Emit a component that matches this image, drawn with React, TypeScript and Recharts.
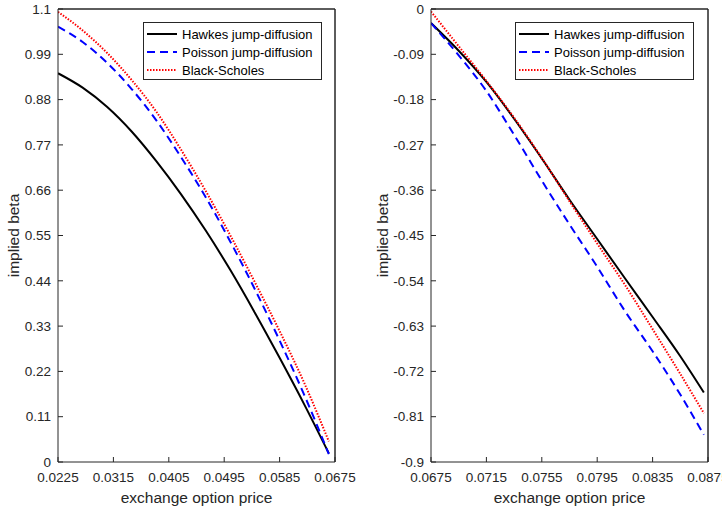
import { LineChart, Line, XAxis, YAxis, Legend, Label } from "recharts";

// left panel: low price range
const leftPrice = [0.0225, 0.0265, 0.0305, 0.0345, 0.0385, 0.0425, 0.0465, 0.0505, 0.0545, 0.0585, 0.0625, 0.0665];
const leftHawkes = [0.944, 0.909, 0.862, 0.802, 0.73, 0.65, 0.562, 0.466, 0.362, 0.253, 0.14, 0.021];
const leftPoisson = [1.057, 1.02, 0.969, 0.905, 0.829, 0.74, 0.643, 0.535, 0.419, 0.295, 0.163, 0.019];
const leftBlackScholes = [1.093, 1.048, 0.993, 0.927, 0.85, 0.758, 0.658, 0.55, 0.436, 0.318, 0.192, 0.05];
const leftXTicks = [0.0225, 0.0315, 0.0405, 0.0495, 0.0585, 0.0675];
const leftYTicks = [0, 0.11, 0.22, 0.33, 0.44, 0.55, 0.66, 0.77, 0.88, 0.99, 1.1];

// right panel: high price range
const rightPrice = [0.0675, 0.0695, 0.0715, 0.0735, 0.0755, 0.0775, 0.0795, 0.0815, 0.0835, 0.0855, 0.0872];
const rightHawkes = [-0.028, -0.083, -0.145, -0.218, -0.297, -0.379, -0.457, -0.535, -0.612, -0.69, -0.762];
const rightPoisson = [-0.028, -0.092, -0.163, -0.25, -0.341, -0.428, -0.512, -0.6, -0.68, -0.766, -0.846];
const rightBlackScholes = [-0.005, -0.074, -0.143, -0.216, -0.296, -0.382, -0.466, -0.548, -0.636, -0.725, -0.803];
const rightXTicks = [0.0675, 0.0715, 0.0755, 0.0795, 0.0835, 0.0875];
const rightYTicks = [-0.9, -0.81, -0.72, -0.63, -0.54, -0.45, -0.36, -0.27, -0.18, -0.09, 0];

const AXIS = "#262626";
const TEXT = "#262626";

const SERIES = [
  { key: "hawkes", name: "Hawkes jump-diffusion", color: "#000000", dash: undefined },
  { key: "poisson", name: "Poisson jump-diffusion", color: "#0000ff", dash: "8 5" },
  { key: "bs", name: "Black-Scholes", color: "#ff0000", dash: "1.5 1.5" },
];

const LegendBox = () => (
  <div
    style={{
      width: 179,
      height: 58,
      boxSizing: "border-box",
      border: `1px solid ${AXIS}`,
      background: "#fff",
      padding: "2px 0 0 3px",
    }}
  >
    {SERIES.map((s) => (
      <div key={s.key} style={{ display: "flex", alignItems: "center", height: 18, fontSize: 13, color: "#000" }}>
        <svg width={30} height={6} style={{ marginRight: 5 }}>
          <line x1={0} y1={3} x2={30} y2={3} stroke={s.color} strokeWidth={2} strokeDasharray={s.dash} />
        </svg>
        <span>{s.name}</span>
      </div>
    ))}
  </div>
);

function Panel({ price, hawkes, poisson, bs, xTicks, yTicks, axisWidth, rightGap, titleX, legendLeft }: any) {
  const data = price.map((p: number, i: number) => ({ price: p, hawkes: hawkes[i], poisson: poisson[i], bs: bs[i] }));
  const xDomain = [xTicks[0], xTicks[xTicks.length - 1]];
  const yDomain = [yTicks[0], yTicks[yTicks.length - 1]];
  const plotLeft = 8 + axisWidth;
  const plotRight = 361 - rightGap - 5;

  return (
    <div style={{ position: "relative", width: 361, height: 514 }}>
      <LineChart width={361} height={514} data={data} margin={{ top: 4, right: rightGap, bottom: 0, left: 8 }}>
        <XAxis
          dataKey="price"
          type="number"
          domain={xDomain}
          ticks={xTicks}
          interval={0}
          allowDataOverflow
          height={52}
          tickSize={-5}
          tickMargin={15}
          stroke={AXIS}
          tick={{ fill: TEXT, fontSize: 13.5 }}
        >
          <Label value="exchange option price" position="insideBottom" offset={11} fill={TEXT} fontSize={15.5} />
        </XAxis>
        <XAxis
          xAxisId="top"
          orientation="top"
          dataKey="price"
          type="number"
          domain={xDomain}
          ticks={xTicks}
          interval={0}
          allowDataOverflow
          height={5}
          tickSize={-5}
          tick={false}
          stroke={AXIS}
        />
        <YAxis
          type="number"
          domain={yDomain}
          ticks={yTicks}
          interval={0}
          allowDataOverflow
          width={axisWidth}
          tickSize={-5}
          tickMargin={12}
          stroke={AXIS}
          tick={{ fill: TEXT, fontSize: 13.5 }}
        >
          <Label
            content={(props: any) => {
              const vb = props.viewBox;
              const cy = vb.y + vb.height / 2;
              return (
                <text x={titleX} y={cy} transform={`rotate(-90 ${titleX} ${cy})`} textAnchor="middle" fill={TEXT} fontSize={15.5}>
                  implied beta
                </text>
              );
            }}
          />
        </YAxis>
        <YAxis
          yAxisId="right"
          orientation="right"
          type="number"
          domain={yDomain}
          ticks={yTicks}
          interval={0}
          allowDataOverflow
          width={5}
          tickSize={-5}
          tick={false}
          stroke={AXIS}
        />
        <Legend
          layout="vertical"
          align="center"
          verticalAlign="middle"
          content={() => <LegendBox />}
          wrapperStyle={{ left: legendLeft, top: 22, width: 179, height: 58 }}
        />
        {SERIES.map((s) => (
          <Line
            key={s.key}
            type="monotone"
            dataKey={s.key}
            name={s.name}
            stroke={s.color}
            strokeWidth={2}
            strokeDasharray={s.dash}
            dot={false}
            isAnimationActive={false}
          />
        ))}
      </LineChart>
      {/* top and right edges of the axes box */}
      <svg
        width={361}
        height={514}
        style={{ position: "absolute", left: 0, top: 0, zIndex: 5, pointerEvents: "none" }}
      >
        <polyline
          points={`${plotLeft},9 ${plotRight},9 ${plotRight},462`}
          fill="none"
          stroke={AXIS}
          strokeWidth={1}
        />
      </svg>
    </div>
  );
}

export default function App() {
  return (
    <div
      style={{
        position: "absolute",
        left: 0,
        top: 0,
        width: 722,
        height: 514,
        background: "#fff",
        fontFamily: "'Liberation Sans', Arial, sans-serif",
        overflow: "hidden",
      }}
    >
      <div style={{ position: "absolute", left: 0, top: 0 }}>
        <Panel
          price={leftPrice}
          hawkes={leftHawkes}
          poisson={leftPoisson}
          bs={leftBlackScholes}
          xTicks={leftXTicks}
          yTicks={leftYTicks}
          axisWidth={50}
          rightGap={21}
          titleX={19}
          legendLeft={143}
        />
      </div>
      <div style={{ position: "absolute", left: 361, top: 0 }}>
        <Panel
          price={rightPrice}
          hawkes={rightHawkes}
          poisson={rightPoisson}
          bs={rightBlackScholes}
          xTicks={rightXTicks}
          yTicks={rightYTicks}
          axisWidth={62}
          rightGap={9}
          titleX={27}
          legendLeft={154}
        />
      </div>
    </div>
  );
}
